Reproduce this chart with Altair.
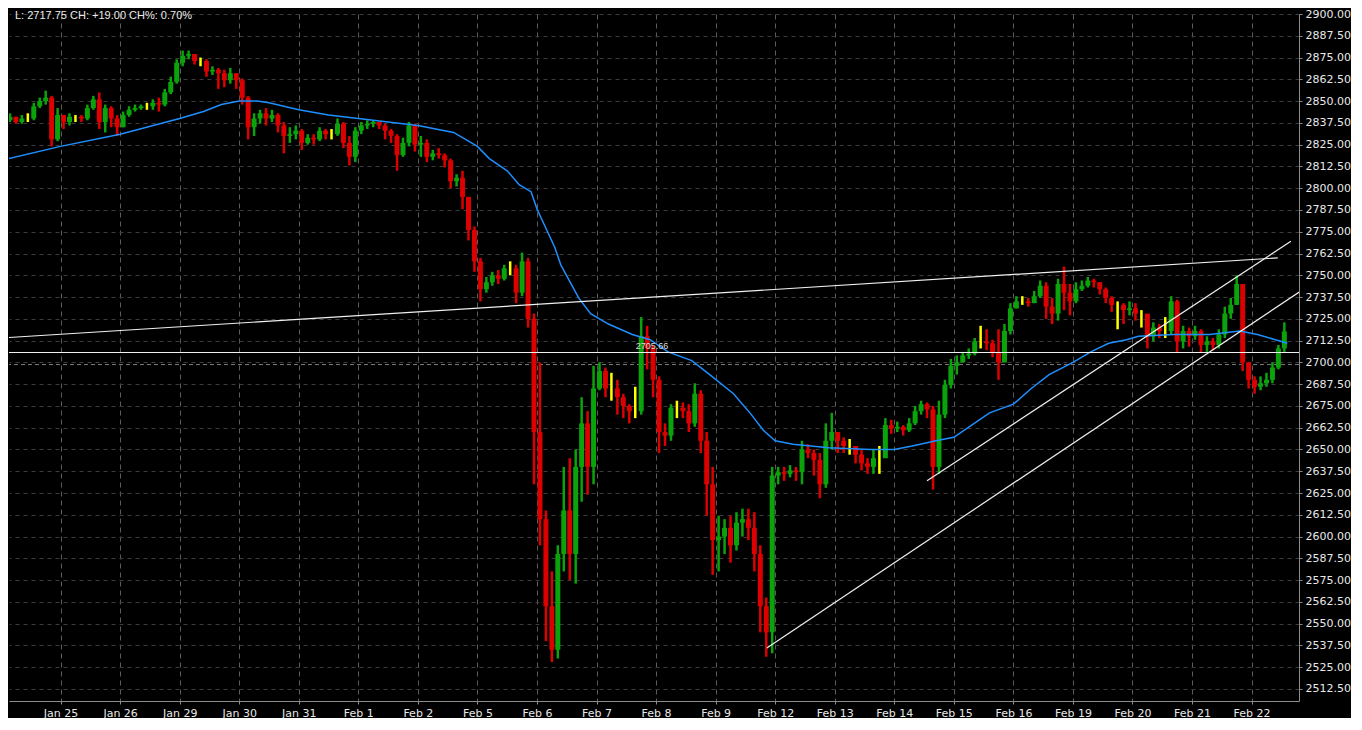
import altair as alt
import pandas as pd

DAY_LABELS = ["Jan 25", "Jan 26", "Jan 29", "Jan 30", "Jan 31", "Feb 1", "Feb 2",
              "Feb 5", "Feb 6", "Feb 7", "Feb 8", "Feb 9", "Feb 12", "Feb 13",
              "Feb 14", "Feb 15", "Feb 16", "Feb 19", "Feb 20", "Feb 21", "Feb 22"]

FIRST_OPEN = 2838

CLOSES = [
    2839, 2841, 2838, 2840, 2840, 2847, 2850, 2852, 2828, 2842,
    2838, 2841, 2841, 2840, 2846, 2851, 2838, 2846, 2840, 2835,
    2842, 2845, 2846, 2847, 2847, 2849, 2848, 2855, 2861, 2872,
    2876, 2877, 2873, 2873, 2867, 2868, 2866, 2862, 2866, 2862,
    2852, 2835, 2840, 2843, 2840, 2842, 2836, 2830, 2831, 2833,
    2826, 2829, 2828, 2833, 2831, 2831, 2837, 2826, 2818, 2833,
    2836, 2837, 2838, 2836, 2833, 2830, 2819, 2826, 2836, 2825,
    2826, 2818, 2820, 2819, 2816, 2804, 2806, 2795, 2776, 2758,
    2742, 2746, 2750, 2748, 2754, 2754, 2740, 2758, 2725, 2660,
    2610, 2560, 2535, 2590, 2615, 2590, 2640, 2665, 2640, 2685,
    2695, 2685, 2685, 2680, 2675, 2672, 2672, 2715, 2708, 2690,
    2660, 2658, 2674, 2674, 2672, 2665, 2682, 2655, 2630, 2598,
    2600, 2605, 2595, 2608, 2610, 2605, 2590, 2560, 2545, 2635,
    2637, 2636, 2638, 2637, 2650, 2648, 2644, 2630, 2655, 2660,
    2655, 2652, 2652, 2647, 2642, 2640, 2645, 2645, 2664, 2662,
    2663, 2661, 2665, 2672, 2676, 2673, 2640, 2670, 2687, 2698,
    2700, 2704, 2705, 2712, 2712, 2711, 2706, 2700, 2718, 2731,
    2735, 2735, 2734, 2738, 2744, 2732, 2728, 2745, 2740, 2735,
    2742, 2744, 2747, 2746, 2742, 2737, 2733, 2733, 2730, 2731,
    2728, 2728, 2715, 2720, 2718, 2718, 2735, 2712, 2718, 2715,
    2718, 2710, 2712, 2710, 2716, 2728, 2733, 2745, 2700, 2690,
    2686, 2688, 2690, 2697, 2708, 2717.75,
]

HIGHS = [
    2842, 2843, 2841, 2842, 2843, 2849, 2852, 2856, 2853, 2846,
    2842, 2843, 2842, 2842, 2848, 2853, 2855, 2848, 2847, 2842,
    2844, 2847, 2848, 2848, 2849, 2851, 2852, 2857, 2864, 2874,
    2879, 2879, 2877, 2875, 2874, 2870, 2869, 2868, 2869, 2866,
    2863, 2853, 2843, 2845, 2846, 2845, 2843, 2838, 2835, 2836,
    2834, 2831, 2831, 2835, 2834, 2834, 2840, 2838, 2830, 2835,
    2838, 2839, 2839, 2838, 2837, 2834, 2831, 2829, 2838, 2837,
    2830, 2828, 2822, 2823, 2820, 2817, 2808, 2810, 2795, 2778,
    2760, 2749, 2752, 2753, 2756, 2758, 2756, 2763, 2760, 2728,
    2700, 2615, 2580, 2595, 2640, 2645, 2650, 2680, 2672, 2698,
    2700, 2697, 2694, 2690, 2682, 2676, 2686, 2726, 2721, 2710,
    2692, 2665, 2676, 2678, 2677, 2676, 2688, 2684, 2660, 2640,
    2612, 2610, 2612, 2614, 2616, 2616, 2614, 2595, 2565, 2640,
    2640, 2640, 2641, 2640, 2655, 2653, 2650, 2648, 2665, 2671,
    2660, 2657, 2656, 2652, 2650, 2645, 2650, 2652, 2668, 2667,
    2666, 2664, 2668, 2675, 2678, 2677, 2675, 2678, 2690, 2702,
    2704, 2706, 2708, 2714, 2721, 2719, 2713, 2719, 2722, 2734,
    2738, 2738, 2737, 2741, 2747, 2746, 2737, 2748, 2755, 2745,
    2746, 2747, 2749, 2748, 2746, 2743, 2738, 2735, 2734, 2735,
    2734, 2730, 2727, 2723, 2722, 2726, 2738, 2736, 2721, 2720,
    2721, 2719, 2715, 2714, 2719, 2732, 2737, 2750, 2745, 2700,
    2692, 2692, 2694, 2700, 2710, 2723,
]

LOWS = [
    2836, 2838, 2837, 2837, 2838, 2839, 2846, 2848, 2824, 2827,
    2834, 2836, 2838, 2838, 2839, 2845, 2834, 2832, 2835, 2830,
    2835, 2841, 2844, 2845, 2845, 2845, 2844, 2847, 2854, 2860,
    2870, 2874, 2871, 2870, 2864, 2865, 2857, 2858, 2860, 2857,
    2848, 2828, 2830, 2837, 2836, 2838, 2832, 2820, 2826, 2828,
    2822, 2825, 2825, 2827, 2828, 2828, 2830, 2823, 2813, 2815,
    2831, 2834, 2835, 2834, 2828, 2826, 2810, 2818, 2824, 2821,
    2818, 2815, 2816, 2817, 2812, 2800, 2801, 2788, 2770, 2752,
    2735, 2740, 2744, 2745, 2747, 2750, 2734, 2738, 2720, 2630,
    2595, 2540, 2528, 2530, 2580, 2575, 2573, 2620, 2624, 2630,
    2684, 2680, 2678, 2670, 2668, 2665, 2668, 2670, 2696, 2680,
    2648, 2652, 2655, 2668, 2668, 2660, 2663, 2648, 2612, 2578,
    2580, 2590, 2585, 2592, 2600, 2598, 2580, 2545, 2531, 2533,
    2630, 2632, 2634, 2632, 2630, 2645, 2635, 2622, 2628, 2650,
    2648, 2648, 2647, 2642, 2638, 2636, 2636, 2636, 2645, 2659,
    2660, 2658, 2660, 2664, 2670, 2668, 2627, 2636, 2668, 2685,
    2693, 2700, 2702, 2704, 2708, 2707, 2703, 2690, 2700, 2716,
    2731, 2733, 2732, 2734, 2737, 2725, 2722, 2724, 2730, 2727,
    2734, 2741, 2743, 2743, 2739, 2734, 2729, 2719, 2722, 2727,
    2724, 2720, 2708, 2712, 2714, 2714, 2716, 2706, 2708, 2709,
    2713, 2706, 2706, 2707, 2708, 2714, 2725, 2733, 2695, 2685,
    2682, 2684, 2686, 2688, 2696, 2706,
]

# moving average (position in bar units, price)
MA_POS = [0, 10, 20, 30, 34, 37, 40, 43, 45, 50, 55, 60, 65, 70, 76, 78, 80, 82, 85,
          87, 89, 90, 93, 94, 97, 99, 102, 106, 109, 112, 116, 119, 123, 126, 128,
          130, 133, 139, 146, 150, 153, 157, 160, 163, 166, 170, 173, 176, 180, 183,
          186, 189, 191, 197, 203, 208, 211, 214, 216]
MA_VAL = [2816, 2824, 2831, 2840, 2844, 2848, 2850, 2850, 2849, 2845, 2842, 2840, 2838,
          2836, 2832, 2828, 2824, 2817, 2810, 2802, 2798, 2788, 2766, 2756, 2737, 2728,
          2722, 2716, 2713, 2706, 2701, 2693, 2682, 2670, 2661, 2655, 2653, 2651, 2650,
          2650, 2652, 2655, 2657, 2664, 2671, 2676, 2685, 2693, 2700, 2706, 2711, 2713,
          2715, 2716, 2716, 2718, 2716, 2713, 2711]

# drawn trend lines (start and end points)
LINE_NAMES = ["resistance", "resistance", "support_low", "support_low", "support_high", "support_high"]
LINE_X = [0, 214.4, 128.6, 218.0, 155.5, 216.6]
LINE_Y = [2714, 2760, 2536, 2740.4, 2632, 2769.5]

LEVEL = 2705.66
LEVEL_X = 109.3
PREV_CLOSE = 2698.75
HEADER = "L: 2717.75 CH: +19.00 CH%: 0.70%"

opens = [FIRST_OPEN] + CLOSES[:-1]
bars = pd.DataFrame({
    "x": [i + 0.5 for i in range(len(CLOSES))],
    "open": opens, "close": CLOSES, "high": HIGHS, "low": LOWS,
})
bars["dir"] = ["up" if c > o else ("down" if c < o else "flat") for o, c in zip(opens, CLOSES)]
ma = pd.DataFrame({"x": MA_POS, "v": MA_VAL})
lines = pd.DataFrame({"line": LINE_NAMES, "x": LINE_X, "v": LINE_Y})

xs = alt.Scale(domain=[1.34, 217.96], nice=False, zero=False)
ys = alt.Scale(domain=[2505.6, 2900], nice=False, zero=False)
col = alt.Color("dir:N", scale=alt.Scale(domain=["up", "down", "flat"],
                                         range=["#0ba30b", "#dc0000", "#ffff00"]), legend=None)

label_expr = "[" + ",".join(f"'{d}'" for d in DAY_LABELS) + "][round(datum.value/10)-1]"
x_axis = alt.Axis(values=[10 * (k + 1) for k in range(len(DAY_LABELS))], labelExpr=label_expr,
                  grid=True, gridColor="#5c5c5c", gridDash=[5, 4], gridWidth=1,
                  domainColor="#8c8c8c", tickColor="#8c8c8c", tickSize=3, labelPadding=3,
                  labelColor="#e8e8e8", labelFont="DejaVu Sans", labelFontSize=11,
                  title=None, labelFlush=False)
y_axis = alt.Axis(orient="right", values=[2512.5 + 12.5 * k for k in range(32)], format=".2f",
                  grid=True, gridColor="#3c3c3c", gridDash=[4, 4], gridWidth=1,
                  domainColor="#8c8c8c", tickColor="#8c8c8c", tickSize=3, labelPadding=3,
                  labelColor="#e8e8e8", labelFont="DejaVu Sans", labelFontSize=11,
                  title=None, labelFlush=False)

X = lambda f: alt.X(f, scale=xs, axis=x_axis)
Y = lambda f: alt.Y(f, scale=ys, axis=y_axis)

wicks = alt.Chart(bars).mark_rule(strokeWidth=2.5, clip=True).encode(
    x=X("x:Q"), y=Y("low:Q"), y2="high:Q", color=col,
)
bodies = alt.Chart(bars).mark_rule(strokeWidth=5, strokeCap="butt", clip=True).encode(
    x=X("x:Q"), y=Y("open:Q"), y2="close:Q", color=col,
)
ma_line = alt.Chart(ma).mark_line(color="#1e8fff", strokeWidth=1.5, clip=True).encode(
    x=X("x:Q"), y=Y("v:Q"),
)
trend = alt.Chart(lines).mark_line(color="#f0f0f0", strokeWidth=1.2, clip=True).encode(
    x=X("x:Q"), y=Y("v:Q"), detail="line:N",
)
level_df = pd.DataFrame({"v": [LEVEL], "x": [LEVEL_X], "t": [f"{LEVEL:.2f}"]})
level = alt.Chart(level_df).mark_rule(color="#f0f0f0", strokeWidth=1.2).encode(
    y=Y("v:Q"),
)
level_label = alt.Chart(level_df).mark_text(dy=-7, color="#dcdcdc", fontSize=9,
                                            font="Liberation Sans").encode(
    x=X("x:Q"), y=Y("v:Q"), text="t:N",
)
prev = alt.Chart(pd.DataFrame({"v": [PREV_CLOSE]})).mark_rule(
    color="#7c7c7c", strokeDash=[4, 3], strokeWidth=1).encode(
    y=Y("v:Q"),
)
header = alt.Chart(pd.DataFrame({"t": [HEADER]})).mark_text(
    align="left", baseline="middle", color="#ececec", fontSize=11, font="Liberation Sans"
).encode(x=alt.value(6), y=alt.value(2), text="t:N")

chart = alt.layer(prev, wicks, bodies, ma_line, trend, level, level_label, header).properties(
    width=1290, height=687, padding=0, background="#000000"
).configure_view(stroke=None)

chart.save("out.html", embed_options={"renderer": "svg", "actions": False})
